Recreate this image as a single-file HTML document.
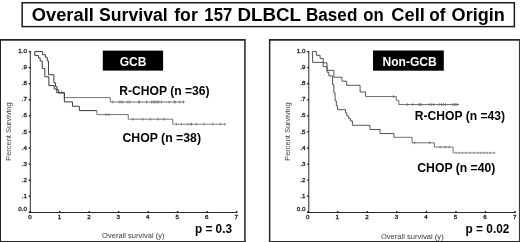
<!DOCTYPE html><html><head><meta charset="utf-8"><style>
html,body{margin:0;padding:0;background:#fff;}body{width:520px;height:242px;overflow:hidden;}svg{display:block;will-change:transform;}text{font-family:"Liberation Sans",sans-serif;}
</style></head><body>
<svg width="520" height="242" viewBox="0 0 520 242">
<rect width="520" height="242" fill="#fff"/>
<rect x="22.15" y="2.75" width="492.2" height="23.85" fill="#fff" stroke="#151515" stroke-width="1.45"/>
<text x="31.75" y="21.1" font-size="17.6" font-weight="bold" fill="#000" textLength="62.07" lengthAdjust="spacingAndGlyphs">Overall</text>
<text x="99.00" y="21.1" font-size="17.6" font-weight="bold" fill="#000" textLength="68.74" lengthAdjust="spacingAndGlyphs">Survival</text>
<text x="174.25" y="21.1" font-size="17.6" font-weight="bold" fill="#000" textLength="23.51" lengthAdjust="spacingAndGlyphs">for</text>
<text x="204.35" y="21.1" font-size="17.6" font-weight="bold" fill="#000" textLength="27.88" lengthAdjust="spacingAndGlyphs">157</text>
<text x="237.50" y="21.1" font-size="17.6" font-weight="bold" fill="#000" textLength="63.55" lengthAdjust="spacingAndGlyphs">DLBCL</text>
<text x="306.00" y="21.1" font-size="17.6" font-weight="bold" fill="#000" textLength="51.33" lengthAdjust="spacingAndGlyphs">Based</text>
<text x="363.25" y="21.1" font-size="17.6" font-weight="bold" fill="#000" textLength="20.52" lengthAdjust="spacingAndGlyphs">on</text>
<text x="391.25" y="21.1" font-size="17.6" font-weight="bold" fill="#000" textLength="33.64" lengthAdjust="spacingAndGlyphs">Cell</text>
<text x="429.25" y="21.1" font-size="17.6" font-weight="bold" fill="#000" textLength="16.14" lengthAdjust="spacingAndGlyphs">of</text>
<text x="451.60" y="21.1" font-size="17.6" font-weight="bold" fill="#000" textLength="53.21" lengthAdjust="spacingAndGlyphs">Origin</text>
<line x1="0" y1="39.9" x2="245.7" y2="39.9" stroke="#262626" stroke-width="1.6"/><line x1="0.35" y1="39.9" x2="0.35" y2="242" stroke="#222" stroke-width="1.3"/><line x1="0" y1="241.5" x2="245.7" y2="241.5" stroke="#2a2a2a" stroke-width="1.15"/><line x1="244.9" y1="39.9" x2="244.9" y2="242" stroke="#303030" stroke-width="1.6"/>
<line x1="268.9" y1="39.9" x2="520" y2="39.9" stroke="#262626" stroke-width="1.6"/><line x1="269.65" y1="39.9" x2="269.65" y2="242" stroke="#262626" stroke-width="1.5"/><line x1="268.9" y1="241.5" x2="520" y2="241.5" stroke="#2a2a2a" stroke-width="1.15"/><line x1="519.5" y1="39.1" x2="519.5" y2="242" stroke="#3a3a3a" stroke-width="1.2"/>
<path d="M30.3,51 V212.5 H237.26000000000002" fill="none" stroke="#2a2a2a" stroke-width="1.0"/><line x1="28.7" y1="51.60" x2="30.3" y2="51.60" stroke="#111" stroke-width="1.3"/><text x="26.900000000000002" y="53.20" font-size="6.2" text-anchor="end" fill="#222" stroke="#222" stroke-width="0.3">1.0</text><line x1="28.7" y1="67.67" x2="30.3" y2="67.67" stroke="#111" stroke-width="1.3"/><text x="26.900000000000002" y="69.27" font-size="6.2" text-anchor="end" fill="#222" stroke="#222" stroke-width="0.3">.9</text><line x1="28.7" y1="83.74" x2="30.3" y2="83.74" stroke="#111" stroke-width="1.3"/><text x="26.900000000000002" y="85.34" font-size="6.2" text-anchor="end" fill="#222" stroke="#222" stroke-width="0.3">.8</text><line x1="28.7" y1="99.81" x2="30.3" y2="99.81" stroke="#111" stroke-width="1.3"/><text x="26.900000000000002" y="101.41" font-size="6.2" text-anchor="end" fill="#222" stroke="#222" stroke-width="0.3">.7</text><line x1="28.7" y1="115.88" x2="30.3" y2="115.88" stroke="#111" stroke-width="1.3"/><text x="26.900000000000002" y="117.48" font-size="6.2" text-anchor="end" fill="#222" stroke="#222" stroke-width="0.3">.6</text><line x1="28.7" y1="131.95" x2="30.3" y2="131.95" stroke="#111" stroke-width="1.3"/><text x="26.900000000000002" y="133.55" font-size="6.2" text-anchor="end" fill="#222" stroke="#222" stroke-width="0.3">.5</text><line x1="28.7" y1="148.02" x2="30.3" y2="148.02" stroke="#111" stroke-width="1.3"/><text x="26.900000000000002" y="149.62" font-size="6.2" text-anchor="end" fill="#222" stroke="#222" stroke-width="0.3">.4</text><line x1="28.7" y1="164.09" x2="30.3" y2="164.09" stroke="#111" stroke-width="1.3"/><text x="26.900000000000002" y="165.69" font-size="6.2" text-anchor="end" fill="#222" stroke="#222" stroke-width="0.3">.3</text><line x1="28.7" y1="180.16" x2="30.3" y2="180.16" stroke="#111" stroke-width="1.3"/><text x="26.900000000000002" y="181.76" font-size="6.2" text-anchor="end" fill="#222" stroke="#222" stroke-width="0.3">.2</text><line x1="28.7" y1="196.23" x2="30.3" y2="196.23" stroke="#111" stroke-width="1.3"/><text x="26.900000000000002" y="197.83" font-size="6.2" text-anchor="end" fill="#222" stroke="#222" stroke-width="0.3">.1</text><line x1="28.7" y1="212.30" x2="30.3" y2="212.30" stroke="#111" stroke-width="1.3"/><text x="26.900000000000002" y="210.60" font-size="6.2" text-anchor="end" fill="#222" stroke="#222" stroke-width="0.3">0.0</text><line x1="30.30" y1="210.9" x2="30.30" y2="212.5" stroke="#111" stroke-width="1.3"/><text x="29.90" y="219.3" font-size="6.2" text-anchor="middle" fill="#222" stroke="#222" stroke-width="0.3">0</text><line x1="59.78" y1="210.9" x2="59.78" y2="212.5" stroke="#111" stroke-width="1.3"/><text x="59.38" y="219.3" font-size="6.2" text-anchor="middle" fill="#222" stroke="#222" stroke-width="0.3">1</text><line x1="89.26" y1="210.9" x2="89.26" y2="212.5" stroke="#111" stroke-width="1.3"/><text x="88.86" y="219.3" font-size="6.2" text-anchor="middle" fill="#222" stroke="#222" stroke-width="0.3">2</text><line x1="118.74" y1="210.9" x2="118.74" y2="212.5" stroke="#111" stroke-width="1.3"/><text x="118.34" y="219.3" font-size="6.2" text-anchor="middle" fill="#222" stroke="#222" stroke-width="0.3">3</text><line x1="148.22" y1="210.9" x2="148.22" y2="212.5" stroke="#111" stroke-width="1.3"/><text x="147.82" y="219.3" font-size="6.2" text-anchor="middle" fill="#222" stroke="#222" stroke-width="0.3">4</text><line x1="177.70" y1="210.9" x2="177.70" y2="212.5" stroke="#111" stroke-width="1.3"/><text x="177.30" y="219.3" font-size="6.2" text-anchor="middle" fill="#222" stroke="#222" stroke-width="0.3">5</text><line x1="207.18" y1="210.9" x2="207.18" y2="212.5" stroke="#111" stroke-width="1.3"/><text x="206.78" y="219.3" font-size="6.2" text-anchor="middle" fill="#222" stroke="#222" stroke-width="0.3">6</text><line x1="236.66" y1="210.9" x2="236.66" y2="212.5" stroke="#111" stroke-width="1.3"/><text x="236.26" y="219.3" font-size="6.2" text-anchor="middle" fill="#222" stroke="#222" stroke-width="0.3">7</text>
<path d="M308.8,51 V212.5 H515.65" fill="none" stroke="#2a2a2a" stroke-width="1.0"/><line x1="307.2" y1="51.60" x2="308.8" y2="51.60" stroke="#111" stroke-width="1.3"/><text x="305.40000000000003" y="53.20" font-size="6.2" text-anchor="end" fill="#222" stroke="#222" stroke-width="0.3">1.0</text><line x1="307.2" y1="67.67" x2="308.8" y2="67.67" stroke="#111" stroke-width="1.3"/><text x="305.40000000000003" y="69.27" font-size="6.2" text-anchor="end" fill="#222" stroke="#222" stroke-width="0.3">.9</text><line x1="307.2" y1="83.74" x2="308.8" y2="83.74" stroke="#111" stroke-width="1.3"/><text x="305.40000000000003" y="85.34" font-size="6.2" text-anchor="end" fill="#222" stroke="#222" stroke-width="0.3">.8</text><line x1="307.2" y1="99.81" x2="308.8" y2="99.81" stroke="#111" stroke-width="1.3"/><text x="305.40000000000003" y="101.41" font-size="6.2" text-anchor="end" fill="#222" stroke="#222" stroke-width="0.3">.7</text><line x1="307.2" y1="115.88" x2="308.8" y2="115.88" stroke="#111" stroke-width="1.3"/><text x="305.40000000000003" y="117.48" font-size="6.2" text-anchor="end" fill="#222" stroke="#222" stroke-width="0.3">.6</text><line x1="307.2" y1="131.95" x2="308.8" y2="131.95" stroke="#111" stroke-width="1.3"/><text x="305.40000000000003" y="133.55" font-size="6.2" text-anchor="end" fill="#222" stroke="#222" stroke-width="0.3">.5</text><line x1="307.2" y1="148.02" x2="308.8" y2="148.02" stroke="#111" stroke-width="1.3"/><text x="305.40000000000003" y="149.62" font-size="6.2" text-anchor="end" fill="#222" stroke="#222" stroke-width="0.3">.4</text><line x1="307.2" y1="164.09" x2="308.8" y2="164.09" stroke="#111" stroke-width="1.3"/><text x="305.40000000000003" y="165.69" font-size="6.2" text-anchor="end" fill="#222" stroke="#222" stroke-width="0.3">.3</text><line x1="307.2" y1="180.16" x2="308.8" y2="180.16" stroke="#111" stroke-width="1.3"/><text x="305.40000000000003" y="181.76" font-size="6.2" text-anchor="end" fill="#222" stroke="#222" stroke-width="0.3">.2</text><line x1="307.2" y1="196.23" x2="308.8" y2="196.23" stroke="#111" stroke-width="1.3"/><text x="305.40000000000003" y="197.83" font-size="6.2" text-anchor="end" fill="#222" stroke="#222" stroke-width="0.3">.1</text><line x1="307.2" y1="212.30" x2="308.8" y2="212.30" stroke="#111" stroke-width="1.3"/><text x="305.40000000000003" y="210.60" font-size="6.2" text-anchor="end" fill="#222" stroke="#222" stroke-width="0.3">0.0</text><line x1="308.20" y1="210.9" x2="308.20" y2="212.5" stroke="#111" stroke-width="1.3"/><text x="307.80" y="219.3" font-size="6.2" text-anchor="middle" fill="#222" stroke="#222" stroke-width="0.3">0</text><line x1="337.75" y1="210.9" x2="337.75" y2="212.5" stroke="#111" stroke-width="1.3"/><text x="337.35" y="219.3" font-size="6.2" text-anchor="middle" fill="#222" stroke="#222" stroke-width="0.3">1</text><line x1="367.30" y1="210.9" x2="367.30" y2="212.5" stroke="#111" stroke-width="1.3"/><text x="366.90" y="219.3" font-size="6.2" text-anchor="middle" fill="#222" stroke="#222" stroke-width="0.3">2</text><line x1="396.85" y1="210.9" x2="396.85" y2="212.5" stroke="#111" stroke-width="1.3"/><text x="396.45" y="219.3" font-size="6.2" text-anchor="middle" fill="#222" stroke="#222" stroke-width="0.3">3</text><line x1="426.40" y1="210.9" x2="426.40" y2="212.5" stroke="#111" stroke-width="1.3"/><text x="426.00" y="219.3" font-size="6.2" text-anchor="middle" fill="#222" stroke="#222" stroke-width="0.3">4</text><line x1="455.95" y1="210.9" x2="455.95" y2="212.5" stroke="#111" stroke-width="1.3"/><text x="455.55" y="219.3" font-size="6.2" text-anchor="middle" fill="#222" stroke="#222" stroke-width="0.3">5</text><line x1="485.50" y1="210.9" x2="485.50" y2="212.5" stroke="#111" stroke-width="1.3"/><text x="485.10" y="219.3" font-size="6.2" text-anchor="middle" fill="#222" stroke="#222" stroke-width="0.3">6</text><line x1="515.05" y1="210.9" x2="515.05" y2="212.5" stroke="#111" stroke-width="1.3"/><text x="514.65" y="219.3" font-size="6.2" text-anchor="middle" fill="#222" stroke="#222" stroke-width="0.3">7</text>
<text x="133.3" y="238.4" font-size="7.4" text-anchor="middle" fill="#3a3a3a" textLength="62.5" lengthAdjust="spacingAndGlyphs">Overall survival (y)</text>
<text x="412.3" y="238.5" font-size="7.4" text-anchor="middle" fill="#3a3a3a" textLength="62.8" lengthAdjust="spacingAndGlyphs">Overall survival (y)</text>
<text transform="translate(11.4,131.6) rotate(-90)" font-size="7.4" text-anchor="middle" fill="#444" textLength="58.5" lengthAdjust="spacingAndGlyphs">Percent Surviving</text>
<text transform="translate(290,131.6) rotate(-90)" font-size="7.4" text-anchor="middle" fill="#444" textLength="58.5" lengthAdjust="spacingAndGlyphs">Percent Surviving</text>
<rect x="102.8" y="50.6" width="60.3" height="20" fill="#000"/>
<text x="119.7" y="65.6" font-size="13" font-weight="bold" fill="#fff" textLength="26.7" lengthAdjust="spacingAndGlyphs">GCB</text>
<rect x="373" y="50.5" width="70.8" height="20.2" fill="#000"/>
<text x="382.5" y="65.7" font-size="13" font-weight="bold" fill="#fff" textLength="54.3" lengthAdjust="spacingAndGlyphs">Non-GCB</text>
<text x="119.3" y="95.0" font-size="13.5" font-weight="bold" fill="#000" textLength="90.3" lengthAdjust="spacingAndGlyphs">R-CHOP (n =36)</text>
<text x="122.5" y="141.8" font-size="13.4" font-weight="bold" fill="#000" textLength="78.5" lengthAdjust="spacingAndGlyphs">CHOP (n =38)</text>
<text x="414.8" y="120.2" font-size="13.5" font-weight="bold" fill="#000" textLength="90.2" lengthAdjust="spacingAndGlyphs">R-CHOP (n =43)</text>
<text x="417.3" y="171.6" font-size="13.4" font-weight="bold" fill="#000" textLength="78" lengthAdjust="spacingAndGlyphs">CHOP (n =40)</text>
<text x="195" y="233" font-size="12.2" font-weight="bold" fill="#000" textLength="37" lengthAdjust="spacingAndGlyphs">p = 0.3</text>
<text x="465.6" y="232.7" font-size="12.2" font-weight="bold" fill="#000" textLength="43.8" lengthAdjust="spacingAndGlyphs">p = 0.02</text>
<g transform="translate(0.35,0.3)">
<path d="M34.4,51.25 H42.25 V54.4 H45 V56.9 H46.9 V60.6 H48.1 V74.4 H53.6 V82.5 H55.2 V86.25 H56.6 V89.5 H58.4 V92.5 H64.0 V97.3" fill="none" stroke="#3a3a3a" stroke-width="1"/>
<path d="M64.0,97.3 H109.9 V101.7 H184.3" fill="none" stroke="#646464" stroke-width="0.9"/>
<path d="M34.4,51.25 V55.25 H38.1 V57.5 H39.75 V60.6 H41.9 V68.1 H44.5 V76.5 H48.5 V85.25 H53.9 V88.75 H56.4 V92.5 H64.0 V101.6 H72.1 V105.95 H79.0 V110.3 H96.5" fill="none" stroke="#3a3a3a" stroke-width="1"/>
<path d="M96.5,110.3 V114.3 H127.9 V118.9 H172.4 V123.9" fill="none" stroke="#646464" stroke-width="0.9"/><path d="M172.4,123.9 H225" fill="none" stroke="#777" stroke-width="0.9"/>
<line x1="112.5" y1="100.3" x2="112.5" y2="103.10000000000001" stroke="#606060" stroke-width="0.75"/><line x1="118.75" y1="100.3" x2="118.75" y2="103.10000000000001" stroke="#606060" stroke-width="0.75"/><line x1="120.6" y1="100.3" x2="120.6" y2="103.10000000000001" stroke="#606060" stroke-width="0.75"/><line x1="122.5" y1="100.3" x2="122.5" y2="103.10000000000001" stroke="#606060" stroke-width="0.75"/><line x1="127.5" y1="100.3" x2="127.5" y2="103.10000000000001" stroke="#606060" stroke-width="0.75"/><line x1="129.4" y1="100.3" x2="129.4" y2="103.10000000000001" stroke="#606060" stroke-width="0.75"/><line x1="138.4" y1="100.3" x2="138.4" y2="103.10000000000001" stroke="#606060" stroke-width="0.75"/><line x1="139.2" y1="100.3" x2="139.2" y2="103.10000000000001" stroke="#606060" stroke-width="0.75"/><line x1="146.25" y1="100.3" x2="146.25" y2="103.10000000000001" stroke="#606060" stroke-width="0.75"/><line x1="151" y1="100.3" x2="151" y2="103.10000000000001" stroke="#606060" stroke-width="0.75"/><line x1="152.5" y1="100.3" x2="152.5" y2="103.10000000000001" stroke="#606060" stroke-width="0.75"/><line x1="154" y1="100.3" x2="154" y2="103.10000000000001" stroke="#606060" stroke-width="0.75"/><line x1="155.5" y1="100.3" x2="155.5" y2="103.10000000000001" stroke="#606060" stroke-width="0.75"/><line x1="157" y1="100.3" x2="157" y2="103.10000000000001" stroke="#606060" stroke-width="0.75"/><line x1="158.5" y1="100.3" x2="158.5" y2="103.10000000000001" stroke="#606060" stroke-width="0.75"/><line x1="161" y1="100.3" x2="161" y2="103.10000000000001" stroke="#606060" stroke-width="0.75"/><line x1="168.75" y1="100.3" x2="168.75" y2="103.10000000000001" stroke="#606060" stroke-width="0.75"/><line x1="174" y1="100.3" x2="174" y2="103.10000000000001" stroke="#606060" stroke-width="0.75"/><line x1="174.8" y1="100.3" x2="174.8" y2="103.10000000000001" stroke="#606060" stroke-width="0.75"/><line x1="179.4" y1="100.3" x2="179.4" y2="103.10000000000001" stroke="#606060" stroke-width="0.75"/><line x1="183.1" y1="100.3" x2="183.1" y2="103.10000000000001" stroke="#606060" stroke-width="0.75"/>
<line x1="105.6" y1="112.89999999999999" x2="105.6" y2="115.7" stroke="#606060" stroke-width="0.75"/><line x1="108.5" y1="112.89999999999999" x2="108.5" y2="115.7" stroke="#606060" stroke-width="0.75"/>
<line x1="132.5" y1="117.5" x2="132.5" y2="120.30000000000001" stroke="#606060" stroke-width="0.75"/><line x1="142.5" y1="117.5" x2="142.5" y2="120.30000000000001" stroke="#606060" stroke-width="0.75"/><line x1="150" y1="117.5" x2="150" y2="120.30000000000001" stroke="#606060" stroke-width="0.75"/><line x1="157.5" y1="117.5" x2="157.5" y2="120.30000000000001" stroke="#606060" stroke-width="0.75"/><line x1="163.75" y1="117.5" x2="163.75" y2="120.30000000000001" stroke="#606060" stroke-width="0.75"/>
<line x1="176" y1="122.60000000000001" x2="176" y2="125.2" stroke="#606060" stroke-width="0.75"/><line x1="181" y1="122.60000000000001" x2="181" y2="125.2" stroke="#606060" stroke-width="0.75"/><line x1="187.5" y1="122.60000000000001" x2="187.5" y2="125.2" stroke="#606060" stroke-width="0.75"/><line x1="190.5" y1="122.60000000000001" x2="190.5" y2="125.2" stroke="#606060" stroke-width="0.75"/><line x1="191.3" y1="122.60000000000001" x2="191.3" y2="125.2" stroke="#606060" stroke-width="0.75"/><line x1="196" y1="122.60000000000001" x2="196" y2="125.2" stroke="#606060" stroke-width="0.75"/><line x1="203.75" y1="122.60000000000001" x2="203.75" y2="125.2" stroke="#606060" stroke-width="0.75"/><line x1="212.5" y1="122.60000000000001" x2="212.5" y2="125.2" stroke="#606060" stroke-width="0.75"/><line x1="220" y1="122.60000000000001" x2="220" y2="125.2" stroke="#606060" stroke-width="0.75"/><line x1="224.5" y1="122.60000000000001" x2="224.5" y2="125.2" stroke="#606060" stroke-width="0.75"/>
<line x1="61.4" y1="90.2" x2="61.4" y2="92.8" stroke="#606060" stroke-width="0.75"/>
</g>
<g transform="translate(0.1,0.3)">
<path d="M312.5,51.25 H316.25 V55 H320 V58.1 H323.1 V62.5 H326.9 V70 H333.75 V76.9 H341.9 V80.9 H346.6 V85 H360 V91.7 H365.5 V96.25" fill="none" stroke="#4a4a4a" stroke-width="0.95"/>
<path d="M365.5,96.25 H396.25 V100 H398.75 V104.25 H459" fill="none" stroke="#606060" stroke-width="0.9"/>
<path d="M312.5,51.25 V62.1 H323.1 V66.25 H326.9 V71.9 H328.75 V75.6 H332.5 V84.4 H333.75 V92.5 H335 V100.6 H336.25 V105.6 H337.5 V109.4 H345.4 V112.5 H346.7 V115.6 H348.5 V118.1 H350.4 V120.6 H352.3 V125 H369.8 V129.2 H380 V133.25 H393.75 V137" fill="none" stroke="#4a4a4a" stroke-width="0.95"/>
<path d="M393.75,137 H412 V142.5 H434.25 V146.75 H453 V152.6" fill="none" stroke="#606060" stroke-width="0.9"/><path d="M453,152.6 H495" fill="none" stroke="#808080" stroke-width="0.9"/>
<line x1="393.4" y1="94.85" x2="393.4" y2="97.65" stroke="#606060" stroke-width="0.75"/>
<line x1="407.3" y1="102.85" x2="407.3" y2="105.65" stroke="#606060" stroke-width="0.75"/><line x1="412.6" y1="102.85" x2="412.6" y2="105.65" stroke="#606060" stroke-width="0.75"/><line x1="419" y1="102.85" x2="419" y2="105.65" stroke="#606060" stroke-width="0.75"/><line x1="420" y1="102.85" x2="420" y2="105.65" stroke="#606060" stroke-width="0.75"/><line x1="421" y1="102.85" x2="421" y2="105.65" stroke="#606060" stroke-width="0.75"/><line x1="429" y1="102.85" x2="429" y2="105.65" stroke="#606060" stroke-width="0.75"/><line x1="431.5" y1="102.85" x2="431.5" y2="105.65" stroke="#606060" stroke-width="0.75"/><line x1="433.5" y1="102.85" x2="433.5" y2="105.65" stroke="#606060" stroke-width="0.75"/><line x1="439" y1="102.85" x2="439" y2="105.65" stroke="#606060" stroke-width="0.75"/><line x1="441.3" y1="102.85" x2="441.3" y2="105.65" stroke="#606060" stroke-width="0.75"/><line x1="443.3" y1="102.85" x2="443.3" y2="105.65" stroke="#606060" stroke-width="0.75"/><line x1="445.5" y1="102.85" x2="445.5" y2="105.65" stroke="#606060" stroke-width="0.75"/><line x1="452.7" y1="102.85" x2="452.7" y2="105.65" stroke="#606060" stroke-width="0.75"/><line x1="454.2" y1="102.85" x2="454.2" y2="105.65" stroke="#606060" stroke-width="0.75"/><line x1="455.7" y1="102.85" x2="455.7" y2="105.65" stroke="#606060" stroke-width="0.75"/><line x1="457.2" y1="102.85" x2="457.2" y2="105.65" stroke="#606060" stroke-width="0.75"/>
<line x1="414.5" y1="141.2" x2="414.5" y2="143.8" stroke="#606060" stroke-width="0.75"/><line x1="429.5" y1="141.2" x2="429.5" y2="143.8" stroke="#606060" stroke-width="0.75"/>
<line x1="440" y1="145.45" x2="440" y2="148.05" stroke="#606060" stroke-width="0.75"/><line x1="445" y1="145.45" x2="445" y2="148.05" stroke="#606060" stroke-width="0.75"/><line x1="449" y1="145.45" x2="449" y2="148.05" stroke="#606060" stroke-width="0.75"/>
<line x1="456" y1="151.4" x2="456" y2="153.79999999999998" stroke="#777" stroke-width="0.75"/><line x1="459" y1="151.4" x2="459" y2="153.79999999999998" stroke="#777" stroke-width="0.75"/><line x1="462" y1="151.4" x2="462" y2="153.79999999999998" stroke="#777" stroke-width="0.75"/><line x1="466" y1="151.4" x2="466" y2="153.79999999999998" stroke="#777" stroke-width="0.75"/><line x1="470" y1="151.4" x2="470" y2="153.79999999999998" stroke="#777" stroke-width="0.75"/><line x1="474" y1="151.4" x2="474" y2="153.79999999999998" stroke="#777" stroke-width="0.75"/><line x1="478" y1="151.4" x2="478" y2="153.79999999999998" stroke="#777" stroke-width="0.75"/><line x1="481" y1="151.4" x2="481" y2="153.79999999999998" stroke="#777" stroke-width="0.75"/><line x1="484" y1="151.4" x2="484" y2="153.79999999999998" stroke="#777" stroke-width="0.75"/><line x1="487" y1="151.4" x2="487" y2="153.79999999999998" stroke="#777" stroke-width="0.75"/><line x1="490" y1="151.4" x2="490" y2="153.79999999999998" stroke="#777" stroke-width="0.75"/><line x1="494.5" y1="151.4" x2="494.5" y2="153.79999999999998" stroke="#777" stroke-width="0.75"/>
</g>
</svg></body></html>
